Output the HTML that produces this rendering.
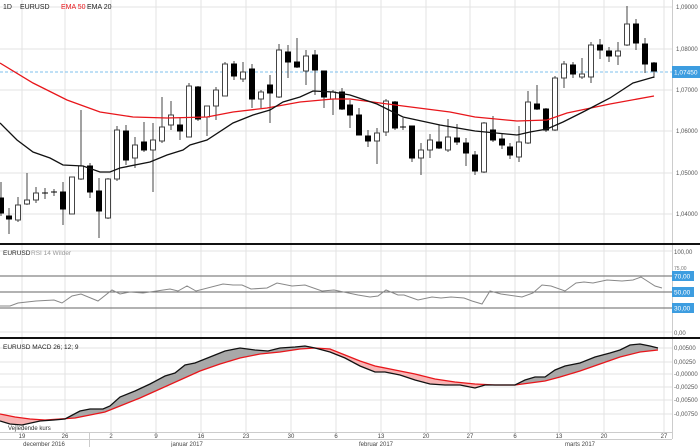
<!DOCTYPE html>
<html><head><meta charset="utf-8"><style>
html,body{margin:0;padding:0;background:#fff;width:700px;height:447px;overflow:hidden}
svg{display:block;font-family:"Liberation Sans",sans-serif}
</style></head><body>
<svg id="s" width="700" height="447" viewBox="0 0 700 447" xmlns="http://www.w3.org/2000/svg">
<defs>
<clipPath id="above"><polygon id="cpA" points=""/></clipPath>
<clipPath id="below"><polygon id="cpB" points=""/></clipPath>
</defs>
<g id="grid"></g>
<g id="main"></g>
<g id="rsi"></g>
<g id="macd"></g>
<g id="axis"></g>
</svg>
<script>
const NS="http://www.w3.org/2000/svg";
function el(p,t,a,txt){const e=document.createElementNS(NS,t);for(const k in a)e.setAttribute(k,a[k]);if(txt!==undefined)e.textContent=txt;document.getElementById(p).appendChild(e);return e;}
const R=672;
const vx=[22,65,111,156,201,246,291,336,381,426,470,515,559,604,664];
vx.forEach(x=>{el('grid','line',{x1:x,y1:0,x2:x,y2:432,stroke:'#e3e3e3','stroke-width':1});});
[7,49,90,131,173,214].forEach(y=>el('grid','line',{x1:0,y1:y,x2:R,y2:y,stroke:'#e3e3e3'}));
[348,362,374,387,400,414].forEach(y=>el('grid','line',{x1:0,y1:y,x2:R,y2:y,stroke:'#e3e3e3'}));
[251,332].forEach(y=>el('grid','line',{x1:0,y1:y,x2:R,y2:y,stroke:'#e3e3e3'}));
el('grid','line',{x1:R+0.5,y1:0,x2:R+0.5,y2:439,stroke:'#ccc'});
[["1,09000",7],["1,08000",49],["1,07000",90],["1,06000",131],["1,05000",173],["1,04000",214]].forEach(([t,y])=>el('axis','text',{x:676,y:y+2,'font-size':6,fill:'#555'},t));
el('main','line',{x1:0,y1:72,x2:R,y2:72,stroke:'#7fc0ee','stroke-dasharray':'3,2'});
const C=[[1,198,213,182,216,1],[9,216,219,208,234,1],[18,205,220,197,222,0],[27,200,204,173,205,0],[36,193,200,187,203,0],[45,193,193,188,199,2],[54,192,192,189,196,2],[63,192,209,182,225,1],[72,177,214,177,214,0],[81,166,179,110,180,0],[90,166,192,163,198,1],[99,191,211,178,238,1],[108,179,218,178,219,0],[117,130,179,126,181,0],[126,131,160,125,165,1],[135,145,158,137,168,0],[144,142,150,122,152,1],[153,140,150,123,192,0],[162,127,141,97,143,0],[171,115,125,101,130,0],[180,125,131,118,140,1],[189,86,137,83,137,0],[198,87,119,86,121,1],[207,106,117,106,136,0],[216,90,106,87,120,0],[225,64,96,62,96,0],[234,64,76,61,80,1],[243,72,79,62,82,0],[252,69,99,64,108,1],[261,92,99,90,108,0],[270,85,93,75,123,1],[279,50,97,44,98,0],[288,52,62,45,78,1],[297,62,67,38,68,1],[306,56,71,50,85,0],[315,55,70,50,95,1],[324,71,97,71,108,1],[333,92,99,90,115,0],[342,92,109,88,110,1],[350,105,115,100,128,1],[359,115,135,108,135,1],[368,136,141,130,147,1],[377,133,141,128,164,0],[386,101,132,99,136,0],[395,102,128,101,130,1],[403,127,127,118,130,2],[412,126,158,126,162,1],[421,150,158,143,175,0],[430,140,150,134,158,0],[439,142,148,125,149,1],[448,137,150,119,152,0],[457,138,142,124,145,1],[466,143,153,138,166,1],[475,155,171,151,175,1],[484,123,172,122,173,0],[493,130,140,116,142,1],[502,139,145,134,149,1],[510,147,155,143,159,1],[519,142,157,126,162,0],[528,102,143,91,144,0],[537,104,109,85,110,1],[546,109,130,108,132,1],[555,78,130,76,131,0],[564,64,78,61,88,0],[573,65,74,62,78,1],[582,74,77,58,79,0],[591,45,77,42,83,0],[600,45,50,39,59,1],[609,51,56,47,62,1],[618,51,56,42,65,0],[627,24,45,6,46,0],[636,24,43,19,50,1],[645,44,64,38,73,1],[654,63,71,62,78,1]];
C.forEach(([x,bt,bb,wt,wb,k])=>{
 el('main','line',{x1:x,y1:wt,x2:x,y2:wb,stroke:'#444','stroke-width':1});
 if(k==2){el('main','line',{x1:x-3,y1:bt,x2:x+3,y2:bt,stroke:'#000','stroke-width':1});}
 else el('main','rect',{x:x-2.5,y:bt,width:5,height:Math.max(1,bb-bt),fill:k?'#000':'#fff',stroke:k?'#000':'#444','stroke-width':1});
});
const pts=a=>a.map(p=>p.join(',')).join(' ');
const ema50=[[0,63],[33,83],[67,100],[100,112],[133,117],[167,118],[207,117],[233,112],[267,108],[300,102],[333,99],[350,99],[403,106],[450,112],[475,117],[517,121],[547,120],[567,113],[610,104],[654,96]];
const ema20=[[0,123],[17,140],[33,152],[50,158],[63,165],[83,166],[100,172],[110,172],[120,168],[150,162],[167,155],[183,150],[190,145],[207,140],[233,123],[253,115],[270,110],[283,102],[300,97],[313,91],[333,92],[350,95],[377,104],[403,117],[440,125],[475,131],[517,135],[530,132],[547,129],[563,122],[583,112],[610,98],[633,83],[654,77]];
el('main','polyline',{points:pts(ema50),fill:'none',stroke:'#e8161b','stroke-width':1.3});
el('main','polyline',{points:pts(ema20),fill:'none',stroke:'#111','stroke-width':1.3});
el('main','rect',{x:672,y:66,width:28,height:12,fill:'#3d9de0'});
el('main','text',{x:674,y:74.5,'font-size':6.5,fill:'#fff'},'1,07450');
el('main','text',{x:3,y:9,'font-size':7,fill:'#222'},'1D');
el('main','text',{x:20,y:9,'font-size':7,fill:'#222'},'EURUSD');
el('main','text',{x:61,y:9,'font-size':7,fill:'#e8161b'},'EMA 50');
el('main','text',{x:87,y:9,'font-size':7,fill:'#222'},'EMA 20');
el('axis','rect',{x:0,y:243,width:700,height:2,fill:'#111'});
el('axis','rect',{x:0,y:337,width:700,height:2,fill:'#111'});
[[276,'70,00'],[292,'50,00'],[308,'30,00']].forEach(([y,t])=>{
 el('rsi','line',{x1:0,y1:y,x2:R,y2:y,stroke:'#666','stroke-width':1});
 el('rsi','rect',{x:672,y:y-5,width:22,height:10,fill:'#3d9de0'});
 el('rsi','text',{x:674,y:y+2.5,'font-size':6.5,fill:'#fff'},t);
});
el('rsi','text',{x:674,y:254,'font-size':6,fill:'#555'},'100,00');
el('rsi','text',{x:674,y:270,'font-size':5,fill:'#777'},'75,00');
el('rsi','text',{x:674,y:335,'font-size':6,fill:'#555'},'0,00');
el('rsi','text',{x:3,y:255,'font-size':6.5,fill:'#222'},'EURUSD');
el('rsi','text',{x:31,y:255,'font-size':6.5,fill:'#999'},'RSI 14 Wilder');
const rsi=[[0,306],[10,306],[18,303],[36,301],[54,300],[62,303],[72,296],[81,294],[98,301],[112,290],[120,294],[130,292],[143,293],[170,289],[178,291],[187,286],[196,291],[223,284],[233,285],[242,285],[251,289],[267,288],[277,283],[292,286],[305,285],[322,291],[334,290],[358,295],[370,297],[378,296],[386,290],[398,295],[404,295],[418,300],[432,297],[441,298],[451,297],[464,298],[472,301],[482,304],[490,291],[501,294],[522,297],[533,293],[542,285],[551,286],[565,291],[576,283],[584,282],[593,283],[607,280],[622,281],[633,280],[641,277],[655,286],[662,288]];
el('rsi','polyline',{points:pts(rsi),fill:'none',stroke:'#888','stroke-width':1});
const m=[[0,421],[10,424],[22,425],[40,421],[54,420],[65,419],[80,411],[90,409],[103,409],[110,406],[120,397],[135,391],[150,384],[165,376],[175,373],[185,365],[195,363],[215,355],[225,351],[240,348],[255,350],[268,351],[280,348],[295,347],[305,346],[315,348],[330,352],[345,358],[360,366],[375,372],[385,372],[400,375],[415,380],[430,384],[445,385],[460,385],[475,388],[485,385],[500,385],[515,385],[525,380],[535,377],[545,377],[555,370],[565,366],[580,363],[595,357],[610,353],[620,350],[630,345],[640,344],[650,346],[658,348]];
const sg=[[0,414],[15,417],[30,419],[45,420],[60,419],[75,418],[90,415],[105,412],[120,406],[140,398],[160,389],[180,380],[200,371],[220,364],[240,358],[260,354],[280,352],[300,349],[315,348],[330,349],[345,355],[360,361],[375,366],[395,370],[415,374],[435,379],[455,382],[475,384],[495,385],[515,385],[530,383],[545,381],[560,377],[580,371],[600,364],[620,357],[640,352],[658,350]];
document.getElementById('cpA').setAttribute('points',pts(sg)+' 658,339 0,339');
document.getElementById('cpB').setAttribute('points',pts(sg)+' 658,432 0,432');
const band=pts(m)+' '+pts(sg.slice().reverse());
el('macd','polygon',{points:band,fill:'#a8a8a8','clip-path':'url(#above)'});
el('macd','polygon',{points:band,fill:'#f8b4b4','clip-path':'url(#below)'});
el('macd','polyline',{points:pts(sg),fill:'none',stroke:'#e8161b','stroke-width':1.3});
el('macd','polyline',{points:pts(m),fill:'none',stroke:'#111','stroke-width':1.3});
el('macd','text',{x:3,y:349,'font-size':6.5,fill:'#222'},'EURUSD  MACD 26; 12; 9');
[[348,'0,00500'],[362,'0,00250'],[374,'-0,00000'],[387,'-0,00250'],[400,'-0,00500'],[414,'-0,00750']].forEach(([y,t])=>el('macd','text',{x:674,y:y+2,'font-size':6,fill:'#555'},t));
el('macd','text',{x:8,y:430,'font-size':6,fill:'#333'},'Vejledende kurs');
el('axis','line',{x1:0,y1:432.5,x2:R,y2:432.5,stroke:'#ccc'});
el('axis','line',{x1:0,y1:439.5,x2:R,y2:439.5,stroke:'#ccc'});
el('axis','line',{x1:89.5,y1:432,x2:89.5,y2:447,stroke:'#ccc'});
const dl=['19','26','2','9','16','23','30','6','13','20','27','6','13','20','27'];
dl.forEach((t,i)=>el('axis','text',{x:vx[i],y:438,'font-size':6,fill:'#444','text-anchor':'middle'},t));
[[44,'december 2016'],[187,'januar 2017'],[376,'februar 2017'],[580,'marts 2017']].forEach(([x,t])=>el('axis','text',{x:x,y:446,'font-size':6,fill:'#444','text-anchor':'middle'},t));
</script>
</body></html>
